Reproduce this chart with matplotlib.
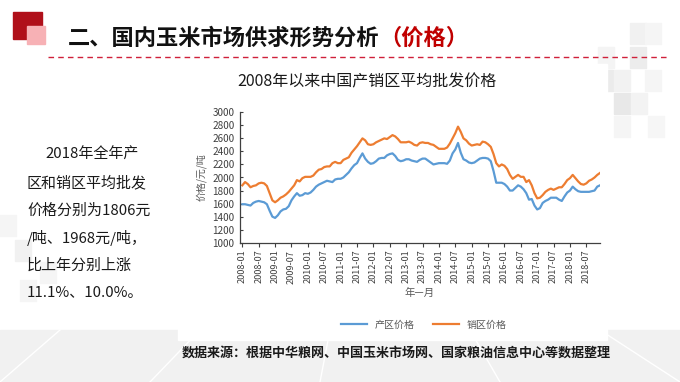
import matplotlib
matplotlib.use("Agg")
import matplotlib.pyplot as plt
from matplotlib.patches import Rectangle
import numpy as np

plt.rcParams['font.family'] = ['Noto Sans CJK SC', 'DejaVu Sans']

# monthly average wholesale prices, 2008-01 .. 2018-12 (yuan/ton)
producing = [1590, 1590, 1580, 1570, 1610, 1630, 1640, 1630, 1620, 1590, 1490, 1400,
             1380, 1420, 1480, 1510, 1520, 1560, 1650, 1710, 1760, 1720, 1730, 1760,
             1750, 1770, 1810, 1860, 1890, 1910, 1930, 1950, 1940, 1930, 1970, 1980,
             1980, 2000, 2040, 2080, 2140, 2190, 2220, 2300, 2370, 2290, 2240, 2210,
             2220, 2250, 2290, 2300, 2300, 2340, 2360, 2370, 2330, 2270, 2250, 2260,
             2280, 2280, 2260, 2250, 2240, 2270, 2290, 2290, 2260, 2230, 2200, 2210,
             2220, 2220, 2220, 2210, 2260, 2370, 2430, 2530, 2380, 2280, 2260, 2230,
             2220, 2230, 2260, 2290, 2300, 2300, 2290, 2250, 2100, 1920, 1920, 1920,
             1900, 1860, 1800, 1800, 1840, 1880, 1860, 1820, 1760, 1660, 1670, 1570,
             1510, 1530, 1610, 1640, 1660, 1690, 1690, 1690, 1660, 1640, 1710, 1770,
             1800, 1860, 1820, 1790, 1780, 1780, 1780, 1780, 1790, 1800, 1860, 1880]
selling = [1880, 1930, 1900, 1850, 1870, 1880, 1910, 1920, 1910, 1870, 1760, 1650,
           1620, 1650, 1690, 1710, 1740, 1780, 1830, 1880, 1960, 1940, 1990, 2010,
           2010, 2010, 2030, 2080, 2120, 2130, 2160, 2170, 2170, 2220, 2240, 2220,
           2220, 2270, 2290, 2310, 2380, 2430, 2480, 2540, 2600, 2570, 2510, 2500,
           2510, 2540, 2560, 2580, 2600, 2590, 2620, 2650, 2630, 2590, 2540, 2540,
           2540, 2550, 2530, 2500, 2490, 2530, 2540, 2530, 2530, 2510, 2500, 2470,
           2440, 2440, 2440, 2460, 2520, 2600, 2680, 2780, 2700, 2600, 2570, 2520,
           2490, 2500, 2510, 2500, 2550, 2540, 2510, 2470, 2360, 2220, 2170, 2200,
           2180, 2130, 2040, 1980, 2010, 2040, 2010, 2010, 1930, 1960, 1880, 1760,
           1680, 1690, 1730, 1780, 1810, 1830, 1810, 1830, 1850, 1850, 1900, 1960,
           1990, 2040, 1990, 1940, 1900, 1890, 1910, 1950, 1970, 2000, 2040, 2070]
tick_labels = ['2008-01', '2008-07', '2009-01', '2009-07', '2010-01', '2010-07',
               '2011-01', '2011-07', '2012-01', '2012-07', '2013-01', '2013-07',
               '2014-01', '2014-07', '2015-01', '2015-07', '2016-01', '2016-07',
               '2017-01', '2017-07', '2018-01', '2018-07']
series_names = ['产区价格', '销区价格']

summary_lines = ['2018年全年产', '区和销区平均批发', '价格分别为1806元',
                 '/吨、1968元/吨，', '比上年分别上涨', '11.1%、10.0%。']

fig = plt.figure(figsize=(6.8, 3.82), dpi=100)
fig.patch.set_facecolor('white')

# slide background, drawn in pixel coordinates
bg = fig.add_axes([0, 0, 1, 1])
bg.set_xlim(0, 680)
bg.set_ylim(382, 0)
bg.axis('off')

bg.add_patch(Rectangle((0, 330), 680, 52, color='#f1f1f1', zorder=0))
for x0, x1 in [(60, 0), (200, 150), (330, 320), (470, 500), (600, 680)]:
    bg.plot([x0, x1], [330, 382], color='white', lw=1.0, zorder=1)
for (x, y, c) in [(630, 23, '#f1f1f1'), (645, 23, '#f5f5f5'), (598, 47, '#f4f4f4'),
                  (630, 47, '#ececec'), (580, 70, '#f0f0f0'), (597, 70, '#ebebeb'),
                  (614, 70, '#f2f2f2'), (645, 70, '#f5f5f5'), (614, 93, '#e8e8e8'),
                  (631, 93, '#f3f3f3'), (614, 116, '#f5f5f5'), (648, 116, '#f6f6f6'),
                  (0, 215, '#f5f5f5'), (15, 240, '#f1f1f1'), (40, 262, '#f5f5f5'),
                  (20, 280, '#f5f5f5')]:
    bg.add_patch(Rectangle((x, y), 16, 21, color=c, zorder=0))
bg.add_patch(Rectangle((178, 64), 429, 276, color='white', zorder=2))

bg.add_patch(Rectangle((13, 12), 29, 27, color='#b0101a', zorder=3))
bg.add_patch(Rectangle((27, 26), 18, 18, color='#f7b1b5', zorder=4))
bg.plot([48, 670], [57, 57], color='#d0203a', lw=1.0, ls=(0, (4, 3)), zorder=3)

t1 = bg.text(68, 38, '二、国内玉米市场供求形势分析', fontsize=16, fontweight='bold',
             color='#111111', ha='left', va='center', zorder=5)
fig.canvas.draw()
ext = t1.get_window_extent()
bg.text(ext.x1, 38, '（价格）', fontsize=16, fontweight='bold', color='#c00000',
        ha='left', va='center', zorder=5)

bg.text(367, 82, '2008年以来中国产销区平均批发价格', fontsize=11.5, color='#1a1a1a',
        ha='center', va='center', zorder=5)

for i, line in enumerate(summary_lines):
    x = 45 if i == 0 else 27
    bg.text(x, 155 + i * 27.6, line, fontsize=10.8, color='#1a1a1a',
            ha='left', va='center', zorder=5)

bg.text(182, 353, '数据来源：根据中华粮网、中国玉米市场网、国家粮油信息中心等数据整理',
        fontsize=9.4, fontweight='bold', color='#1a1a1a', ha='left', va='center', zorder=5)

# chart
ax = fig.add_axes([240 / 680, 1 - 242.7 / 382, 360 / 680, 130.4 / 382], zorder=3)
ax.patch.set_alpha(0)
months = np.arange(len(producing))
ax.plot(months, producing, color='#5b9bd5', lw=1.6, label=series_names[0])
ax.plot(months, selling, color='#ed7d31', lw=1.6, label=series_names[1])
ax.set_xlim(-0.85, 131.0)
ax.set_ylim(1000, 3000)
ax.set_yticks(np.arange(1000, 3001, 200))
ax.set_xticks(np.arange(0, len(tick_labels) * 6, 6))
ax.set_xticklabels(tick_labels, rotation=90)
ax.tick_params(axis='x', labelsize=6.6, colors='#404040', length=3, width=0.8, pad=2)
ax.tick_params(axis='y', labelsize=7.2, colors='#404040', length=2, width=0.8,
               direction='in', pad=4)
for side in ['top', 'right']:
    ax.spines[side].set_visible(False)
for side in ['left', 'bottom']:
    ax.spines[side].set_color('#404040')
    ax.spines[side].set_linewidth(0.9)
ax.set_ylabel('价格/元/吨', fontsize=7.2, color='#595959', labelpad=4)
ax.set_xlabel('年—月', fontsize=7.5, color='#595959', labelpad=3)

ax.legend(loc='upper center', bbox_to_anchor=(0.51, -0.52), ncol=2, frameon=False,
          fontsize=7.2, handlelength=2.6, columnspacing=1.8, labelcolor='#595959')

fig.savefig('out.png', dpi=100)
